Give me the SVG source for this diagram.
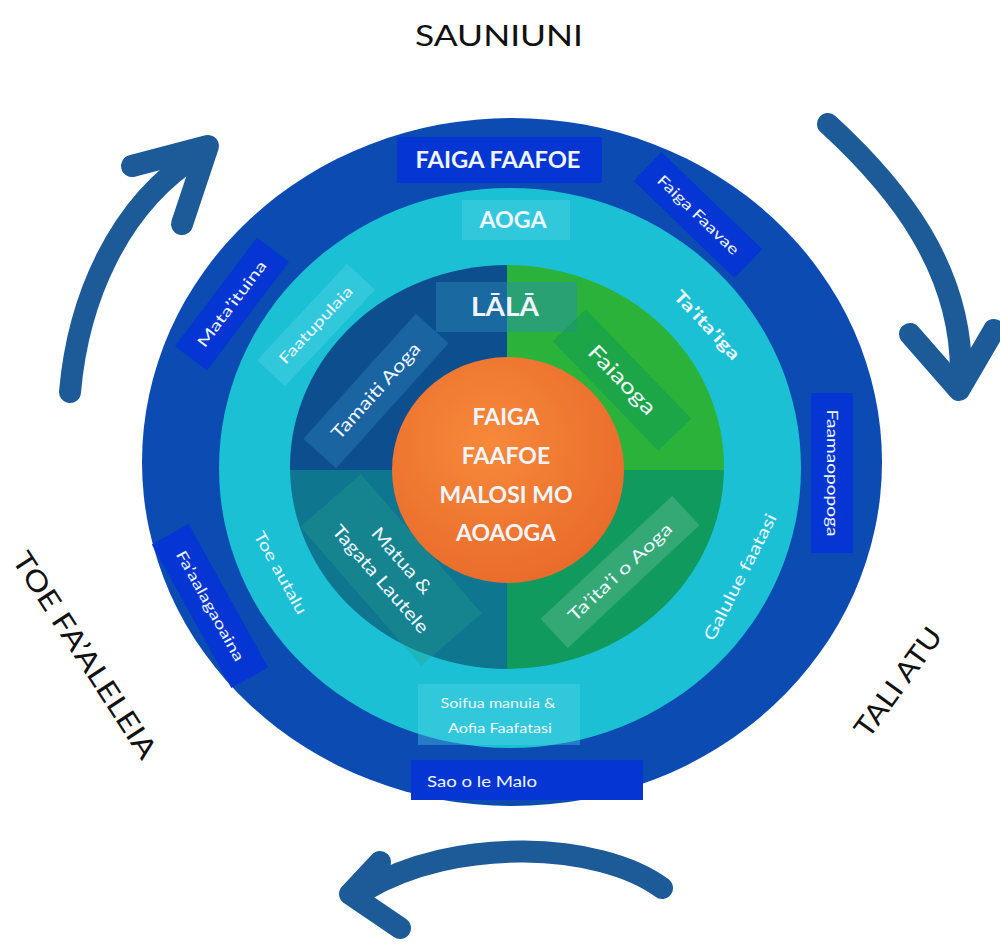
<svg xmlns="http://www.w3.org/2000/svg" width="1000" height="944" viewBox="0 0 1000 944">
<style>
.t{font-family:Lato,"Open Sans","Liberation Sans",sans-serif;fill:#eef5ff;text-anchor:middle}
.b{font-weight:bold}
.out{font-family:Lato,"Open Sans","Liberation Sans",sans-serif;fill:#111;text-anchor:middle;font-size:28px}
.ob{fill:#0535d2}
.cb{fill:#5ad8e8;opacity:.35}
.arr{fill:none;stroke:#1d5b98;stroke-width:22;stroke-linecap:round;stroke-linejoin:round}
</style>
<defs>
<clipPath id="qc"><ellipse cx="507" cy="467" rx="217" ry="202"/></clipPath>
<radialGradient id="og" cx="0.42" cy="0.38" r="0.7">
<stop offset="0" stop-color="#f7893a"/>
<stop offset="1" stop-color="#e8692a"/>
</radialGradient>
</defs>
<rect width="1000" height="944" fill="#ffffff"/>

<g id="rings">
<ellipse cx="512" cy="462" rx="370" ry="344" fill="#0c4bb2"/>
<ellipse cx="510" cy="468" rx="291" ry="280" fill="#1cc0d4"/>
<g clip-path="url(#qc)">
<rect x="280" y="250" width="227" height="220" fill="#0d4f8e"/>
<rect x="507" y="250" width="230" height="220" fill="#2ab23a"/>
<rect x="280" y="470" width="227" height="220" fill="#0f7690"/>
<rect x="507" y="470" width="230" height="220" fill="#119a5e"/>
</g>
</g>

<g id="labels-outside">
<text class="out" x="499" y="46" textLength="168" lengthAdjust="spacingAndGlyphs">SAUNIUNI</text>
<text class="out" transform="translate(85,655) rotate(57)" dy="10" textLength="240" lengthAdjust="spacingAndGlyphs">TOE FA’ALELEIA</text>
<text class="out" transform="translate(898,682) rotate(-54)" dy="10" textLength="128" lengthAdjust="spacingAndGlyphs">TALI ATU</text>
</g>

<g id="connectors">
<path class="arr" d="M70 392 C78 300 118 205 198 155"/>
<polyline class="arr" points="132,166 208,146 182,224"/>
<path class="arr" d="M828 124 C900 190 962 270 961 375"/>
<polyline class="arr" points="910,334 959,390 994,330"/>
<path class="arr" d="M662 888 C600 842 455 836 365 890"/>
<polyline class="arr" points="380,862 350,894 400,928"/>
</g>

<g id="n-faiga-faafoe">
<rect class="ob" x="397" y="137" width="205" height="46"/>
<text class="t b" x="498" y="168" font-size="22" textLength="165" lengthAdjust="spacingAndGlyphs">FAIGA FAAFOE</text>
</g>
<g id="n-faiga-faavae" transform="translate(698,215) rotate(44)">
<rect class="ob" x="-70" y="-20" width="140" height="40"/>
<text class="t" y="5" font-size="15" textLength="107" lengthAdjust="spacingAndGlyphs">Faiga Faavae</text>
</g>
<g id="n-faamaopopoga" transform="translate(832,473) rotate(90)">
<rect class="ob" x="-80" y="-21" width="160" height="42"/>
<text class="t" y="5" font-size="15" textLength="127" lengthAdjust="spacingAndGlyphs">Faamaopopoga</text>
</g>
<g id="n-sao">
<rect class="ob" x="411" y="760" width="232" height="40"/>
<text class="t" x="482" y="787" font-size="16" textLength="110" lengthAdjust="spacingAndGlyphs">Sao o le Malo</text>
</g>
<g id="n-faaalagaoaina" transform="translate(210,606) rotate(61)">
<rect class="ob" x="-82" y="-21" width="164" height="42"/>
<text class="t" y="5" font-size="15" textLength="124" lengthAdjust="spacingAndGlyphs">Fa’aalagaoaina</text>
</g>
<g id="n-mataituina" transform="translate(232,304) rotate(-53)">
<rect class="ob" x="-68" y="-20" width="136" height="40"/>
<text class="t" y="5" font-size="15" textLength="104" lengthAdjust="spacingAndGlyphs">Mata’ituina</text>
</g>

<g id="n-aoga">
<rect class="cb" x="462" y="200" width="108" height="40"/>
<text class="t b" x="513" y="228" font-size="22" textLength="67" lengthAdjust="spacingAndGlyphs">AOGA</text>
</g>
<g id="n-faatupulaia" transform="translate(316,325) rotate(-47)">
<rect class="cb" x="-66" y="-19" width="132" height="38"/>
<text class="t" y="5" font-size="15" textLength="100" lengthAdjust="spacingAndGlyphs">Faatupulaia</text>
</g>
<g id="n-taitaiga" transform="translate(707,325) rotate(47)">
<text class="t b" y="6" font-size="17" textLength="88" lengthAdjust="spacingAndGlyphs">Ta’ita’iga</text>
</g>
<g id="n-galulue" transform="translate(740,577) rotate(-63)">
<text class="t" y="6" font-size="17" textLength="140" lengthAdjust="spacingAndGlyphs">Galulue faatasi</text>
</g>
<g id="n-toe-autalu" transform="translate(280,573) rotate(61)">
<text class="t" y="5" font-size="16" textLength="92" lengthAdjust="spacingAndGlyphs">Toe autalu</text>
</g>
<g id="n-soifua">
<rect class="cb" x="418" y="684" width="162" height="61"/>
<text class="t" x="498" y="708" font-size="14" textLength="115" lengthAdjust="spacingAndGlyphs">Soifua manuia &amp;</text>
<text class="t" x="500" y="733" font-size="14" textLength="104" lengthAdjust="spacingAndGlyphs">Aofia Faafatasi</text>
</g>

<g id="n-lala">
<rect x="436" y="282" width="141" height="50" fill="#2a8cb8" opacity="0.45"/>
<text class="t b" x="505" y="316" font-size="27" textLength="68" lengthAdjust="spacingAndGlyphs">LĀLĀ</text>
</g>
<g id="n-tamaiti" transform="translate(376,391) rotate(-48)">
<rect x="-84" y="-22" width="168" height="44" fill="#3a95d0" opacity="0.3"/>
<text class="t" y="6" font-size="18" textLength="123" lengthAdjust="spacingAndGlyphs">Tamaiti Aoga</text>
</g>
<g id="n-faiaoga" transform="translate(622,380) rotate(46)">
<rect x="-76" y="-23" width="152" height="46" fill="#0f9a56" opacity="0.5"/>
<text class="t" y="7" font-size="21" textLength="88" lengthAdjust="spacingAndGlyphs">Faiaoga</text>
</g>
<g id="n-matua" transform="translate(391,570) rotate(49)">
<rect x="-92" y="-40" width="184" height="80" fill="#22a090" opacity="0.35"/>
<text class="t" y="-8" font-size="18" textLength="82" lengthAdjust="spacingAndGlyphs">Matua &amp;</text>
<text class="t" y="20" font-size="18" textLength="137" lengthAdjust="spacingAndGlyphs">Tagata Lautele</text>
</g>
<g id="n-taitai-aoga" transform="translate(620,572) rotate(-43)">
<rect x="-90" y="-20" width="180" height="40" fill="#ffffff" opacity="0.15"/>
<text class="t" y="6" font-size="17" textLength="135" lengthAdjust="spacingAndGlyphs">Ta’ita’i o Aoga</text>
</g>

<g id="n-center">
<ellipse cx="508" cy="470" rx="116" ry="113" fill="url(#og)"/>
<text class="t b" x="506" y="425" font-size="23">FAIGA</text>
<text class="t b" x="506" y="464" font-size="23">FAAFOE</text>
<text class="t b" x="506" y="503" font-size="23">MALOSI MO</text>
<text class="t b" x="506" y="541" font-size="23">AOAOGA</text>
</g>
</svg>
